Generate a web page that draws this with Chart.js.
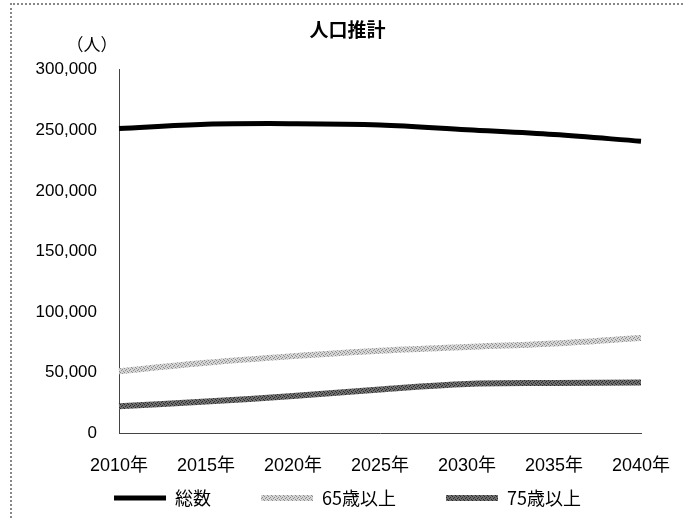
<!DOCTYPE html>
<html>
<head>
<meta charset="utf-8">
<script src="https://cdn.jsdelivr.net/npm/chart.js@4.4.0/dist/chart.umd.min.js"></script>
<style>
  html, body { margin: 0; padding: 0; background: #fff; }
  #wrap { position: relative; width: 683px; height: 518px; }
  #frame { position: absolute; left: 10px; top: 3px; right: 0; bottom: 0;
           border-left: 2px dotted #888; border-top: 2px dotted #888; }
</style>
</head>
<body>
<div id="wrap">
  <div id="frame"></div>
  <canvas id="chart" width="683" height="518"></canvas>
</div>
<script>
// data
var years = ['2010年', '2015年', '2020年', '2025年', '2030年', '2035年', '2040年'];
var total = [251500, 255000, 255500, 254500, 250500, 246500, 241000];
var age65 = [51000, 58000, 63500, 68000, 71000, 74000, 78500];
var age75 = [22000, 26000, 30500, 36000, 40500, 41300, 41800];
var yTicks = [0, 50000, 100000, 150000, 200000, 250000, 300000];

var numFont = '"Liberation Sans", "Noto Sans CJK JP", sans-serif';
var jpFont = '"Noto Sans CJK JP", "Liberation Sans", sans-serif';

// speckled stroke like the scanned original
function makePattern(base, dot) {
  var c = document.createElement('canvas');
  c.width = 4; c.height = 4;
  var g = c.getContext('2d');
  g.fillStyle = base;
  g.fillRect(0, 0, 4, 4);
  g.fillStyle = dot;
  g.fillRect(0, 0, 1, 1);
  g.fillRect(2, 1, 1, 1);
  g.fillRect(1, 2, 1, 1);
  g.fillRect(3, 3, 1, 1);
  return g.createPattern(c, 'repeat');
}

var unitLabel = {
  id: 'unitLabel',
  beforeDraw: function (chart) {
    // x labels sit lower than the squeezed axis box, so don't clip them
    chart.scales.x._computeLabelArea = function () {};
  },
  afterDraw: function (chart) {
    var ctx = chart.ctx;
    ctx.save();
    ctx.font = '17px ' + jpFont;
    ctx.fillStyle = '#000';
    ctx.textAlign = 'center';
    ctx.textBaseline = 'middle';
    ctx.fillText('（人）', 92, 45);
    ctx.restore();
  }
};

new Chart(document.getElementById('chart'), {
  type: 'line',
  data: {
    labels: years,
    datasets: [{
      label: '総数',
      data: total,
      borderColor: '#000',
      backgroundColor: '#000',
      borderWidth: 5
    }, {
      label: '65歳以上',
      data: age65,
      borderColor: makePattern('#d4d4d4', '#8c8c8c'),
      backgroundColor: '#bbb',
      borderWidth: 6
    }, {
      label: '75歳以上',
      data: age75,
      borderColor: makePattern('#6e6e6e', '#2a2a2a'),
      backgroundColor: '#666',
      borderWidth: 6
    }]
  },
  options: {
    responsive: false,
    animation: false,
    layout: { padding: { left: 15, right: 3, top: 0, bottom: 1 } },
    elements: {
      point: { radius: 0 },
      line: { tension: 0.35 }
    },
    plugins: {
      title: {
        display: true,
        text: '人口推計',
        color: '#000',
        font: { family: jpFont, size: 19, weight: 'bold' },
        padding: { top: 18, bottom: 29 }
      },
      legend: {
        position: 'bottom',
        labels: {
          usePointStyle: true,
          pointStyleWidth: 52,
          pointStyle: 'line',
          color: '#000',
          font: { family: jpFont, size: 18 },
          padding: 50
        }
      },
      tooltip: { enabled: false }
    },
    scales: {
      x: {
        offset: false,
        grid: { display: false, drawTicks: false },
        border: { display: true, color: '#444', width: 1 },
        ticks: {
          color: '#000',
          font: { family: numFont, size: 18 },
          padding: 22,
          maxRotation: 0
        },
        afterFit: function (s) {
          s.height = 6;
          s.paddingLeft = 0;
          s.paddingRight = 42;
        }
      },
      y: {
        min: 0,
        max: 300000,
        grid: { display: false, drawTicks: false },
        border: { display: true, color: '#444', width: 1 },
        afterBuildTicks: function (s) {
          s.ticks = yTicks.map(function (v) { return { value: v }; });
        },
        ticks: {
          color: '#000',
          font: { family: numFont, size: 17 },
          padding: 22,
          callback: function (v) { return v.toLocaleString('en-US'); }
        },
        afterFit: function (s) { s.width = 104; }
      }
    }
  },
  plugins: [unitLabel]
});
</script>
</body>
</html>
